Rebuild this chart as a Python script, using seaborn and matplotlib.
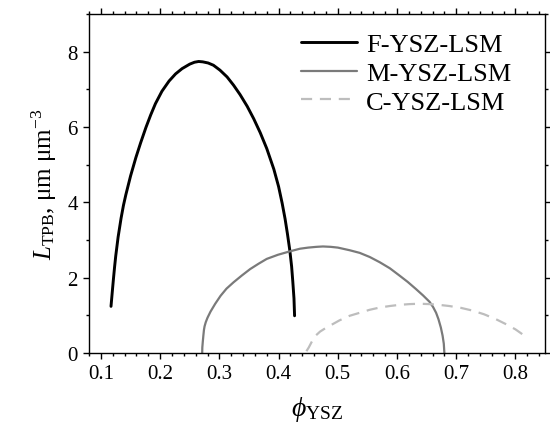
import pandas as pd
import seaborn as sns
import matplotlib.pyplot as plt

# curves (phi_YSZ, L_TPB)
f_x = [0.117, 0.119, 0.121, 0.123, 0.125, 0.129, 0.134, 0.138, 0.142, 0.150, 0.159, 0.167,
       0.176, 0.184, 0.192, 0.203, 0.215, 0.226, 0.237, 0.250, 0.258, 0.265, 0.272, 0.281,
       0.290, 0.301, 0.313, 0.324, 0.335, 0.347, 0.358, 0.369, 0.380, 0.392, 0.400, 0.406,
       0.411, 0.415, 0.419, 0.422, 0.424, 0.426, 0.427]
f_y = [1.24, 1.60, 1.95, 2.28, 2.58, 3.08, 3.58, 3.92, 4.20, 4.70, 5.19, 5.58,
       5.99, 6.32, 6.62, 6.95, 7.22, 7.41, 7.55, 7.67, 7.72, 7.74, 7.73, 7.70,
       7.64, 7.51, 7.33, 7.11, 6.86, 6.55, 6.22, 5.85, 5.43, 4.88, 4.42, 3.98,
       3.56, 3.16, 2.72, 2.30, 1.90, 1.45, 0.99]

m_x = [0.271, 0.2712, 0.272, 0.273, 0.274, 0.275, 0.277, 0.280, 0.285, 0.293, 0.302, 0.312,
       0.324, 0.338, 0.352, 0.366, 0.380, 0.399, 0.419, 0.436, 0.450, 0.464, 0.475, 0.488,
       0.500, 0.520, 0.537, 0.554, 0.571, 0.588, 0.604, 0.618, 0.632, 0.644, 0.655, 0.661,
       0.666, 0.670, 0.674, 0.677, 0.679, 0.680]
m_y = [0.00, 0.15, 0.30, 0.47, 0.62, 0.71, 0.82, 0.94, 1.10, 1.31, 1.52, 1.71,
       1.88, 2.06, 2.23, 2.37, 2.50, 2.61, 2.70, 2.77, 2.80, 2.82, 2.83, 2.82,
       2.80, 2.73, 2.66, 2.55, 2.41, 2.25, 2.06, 1.89, 1.70, 1.53, 1.36, 1.22,
       1.07, 0.90, 0.68, 0.46, 0.25, 0.00]

c_x = [0.447, 0.451, 0.456, 0.461, 0.470, 0.479, 0.487, 0.503, 0.520, 0.537, 0.554, 0.571,
       0.588, 0.604, 0.621, 0.638, 0.655, 0.671, 0.688, 0.708, 0.727, 0.747, 0.767, 0.785,
       0.800, 0.810, 0.818]
c_y = [0.05, 0.15, 0.30, 0.44, 0.57, 0.66, 0.73, 0.87, 0.99, 1.07, 1.15, 1.21,
       1.25, 1.28, 1.30, 1.31, 1.30, 1.28, 1.25, 1.20, 1.13, 1.03, 0.90, 0.76,
       0.63, 0.52, 0.42]

labels = ['F-YSZ-LSM', 'M-YSZ-LSM', 'C-YSZ-LSM']

df = pd.concat([
    pd.DataFrame({'phi': f_x, 'L': f_y, 'sample': labels[0]}),
    pd.DataFrame({'phi': m_x, 'L': m_y, 'sample': labels[1]}),
    pd.DataFrame({'phi': c_x, 'L': c_y, 'sample': labels[2]}),
])

sns.set_theme(style="ticks")
plt.rcParams['font.family'] = ['Liberation Serif', 'DejaVu Serif']
plt.rcParams['mathtext.fontset'] = 'custom'
plt.rcParams['mathtext.rm'] = 'Liberation Serif'
plt.rcParams['mathtext.it'] = 'Liberation Serif:italic'
plt.rcParams['text.color'] = 'black'
plt.rcParams['axes.labelcolor'] = 'black'

fig = plt.figure(figsize=(5.5, 4.35), dpi=100)
ax = fig.add_axes([0.162, 0.186, 0.829, 0.7795])

styles = {
    labels[0]: dict(color='black', lw=2.1, ls='-'),
    labels[1]: dict(color='#7a7a7a', lw=1.6, ls='-'),
    labels[2]: dict(color='#bdbdbd', lw=1.6, ls=(0, (5, 3.5))),
}
for name in labels:
    sub = df[df['sample'] == name]
    sns.lineplot(data=sub, x='phi', y='L', sort=False, estimator=None,
                 label=name, ax=ax, **styles[name])

ax.set_xlim(0.08, 0.85)
ax.set_ylim(0, 9)
ax.set_xticks([0.1, 0.2, 0.3, 0.4, 0.5, 0.6, 0.7, 0.8])
ax.set_xticks([i / 100 for i in range(8, 86, 2)], minor=True)
ax.set_yticks([0, 2, 4, 6, 8])
ax.set_yticks([1, 3, 5, 7, 9], minor=True)
ax.tick_params(which='both', direction='out', top=True, right=True,
               labelsize=15, width=1, color='black', labelcolor='black')
ax.tick_params(which='major', length=4.5)
ax.tick_params(which='minor', length=2.5)
for s in ax.spines.values():
    s.set_color('black')
    s.set_linewidth(1.0)

ax.set_xlabel(r'$\phi_{\mathrm{YSZ}}$', fontsize=20, labelpad=8)
ax.set_ylabel(r'$L_{\mathrm{TPB}}$, μm μm$^{-3}$', fontsize=18, labelpad=6)

ax.legend(loc='upper left', bbox_to_anchor=(0.465, 0.945), frameon=False,
          fontsize=19, borderaxespad=0, borderpad=0, handlelength=2.1,
          handletextpad=0.37, labelspacing=0.2)

fig.savefig('out.png', dpi=100)
